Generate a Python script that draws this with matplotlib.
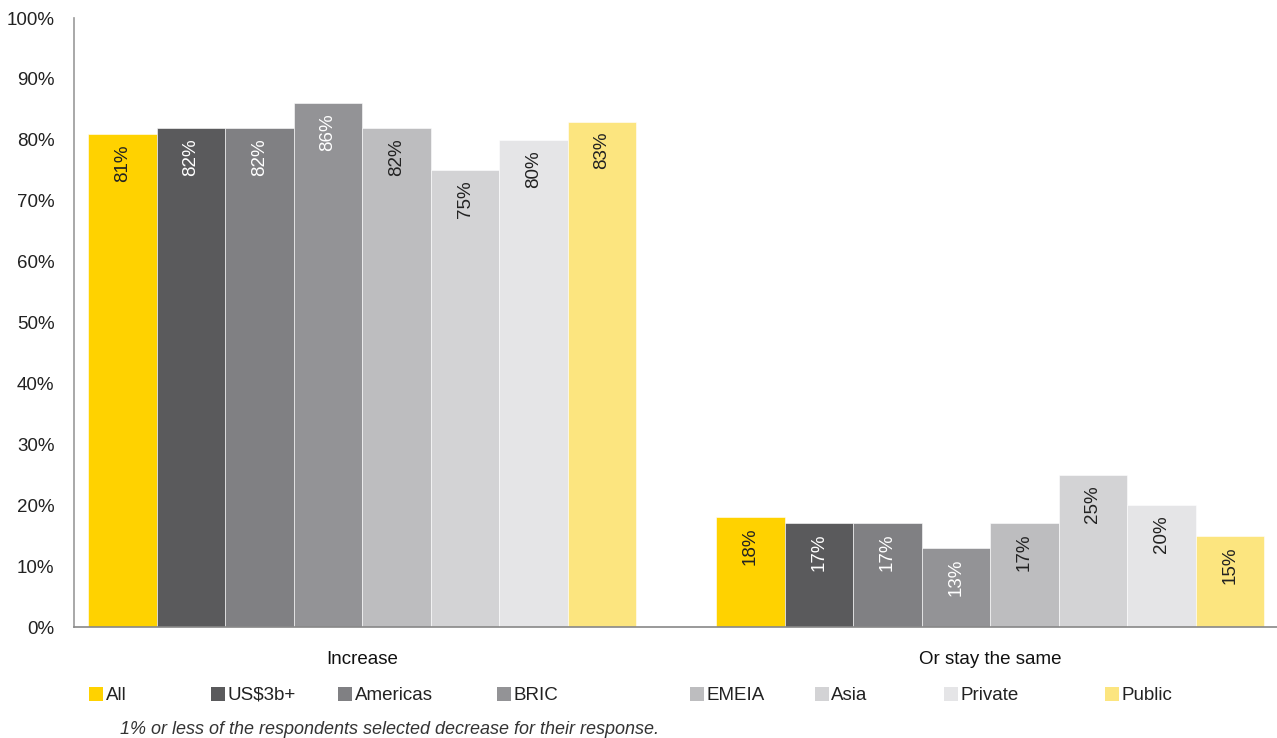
import numpy as np
import matplotlib
matplotlib.use('Agg')
import matplotlib.pyplot as plt
from matplotlib.patches import Rectangle

plt.rcParams['font.family'] = ['Liberation Sans', 'DejaVu Sans']

categories = ['Increase', 'Or stay the same']
series = ['All', 'US$3b+', 'Americas', 'BRIC', 'EMEIA', 'Asia', 'Private', 'Public']
values = [
    [81, 82, 82, 86, 82, 75, 80, 83],
    [18, 17, 17, 13, 17, 25, 20, 15],
]
colors = ['#FFD200', '#5A5A5C', '#808083', '#939396', '#BDBDBF', '#D3D3D5', '#E5E5E7', '#FCE57F']
label_colors = ['#222222', 'white', 'white', 'white', '#222222', '#222222', '#222222', '#222222']
legend_x = [0.070, 0.165, 0.265, 0.389, 0.540, 0.638, 0.739, 0.865]

FS = 13.5

fig = plt.figure(figsize=(12.77, 7.38), dpi=100)
ax = fig.add_axes([0.058, 0.1504, 0.942, 0.8252])

n = len(series)
group_w = 0.873
bw = group_w / n
x = np.arange(len(categories))

for i, name in enumerate(series):
    pos = x - group_w / 2 + bw * (i + 0.5)
    vals = [values[c][i] for c in range(len(categories))]
    ax.bar(pos, vals, width=bw, color=colors[i], edgecolor='white', linewidth=0.4, zorder=2)
    for p, v in zip(pos, vals):
        ax.text(p, v - 1.7, f'{v}%', rotation=90, ha='center', va='top',
                fontsize=FS, color=label_colors[i], zorder=3)

ax.set_xlim(-0.459, 1.457)
ax.set_ylim(0, 100)
ax.set_yticks(np.arange(0, 101, 10))
ax.set_yticklabels([f'{t}%' for t in range(0, 101, 10)], fontsize=FS, color='#222222')
ax.set_xticks(x)
ax.set_xticklabels(categories, fontsize=FS, color='#111111')
ax.tick_params(axis='y', length=0, pad=14)
ax.tick_params(axis='x', length=0, pad=17)

for side in ['top', 'right']:
    ax.spines[side].set_visible(False)
ax.spines['left'].set_color('#999999')
ax.spines['bottom'].set_color('#888888')
ax.spines['left'].set_linewidth(1.2)
ax.spines['bottom'].set_linewidth(1.2)

# legend row drawn by hand to keep the uneven spacing
ly = 1 - 695 / 738
sq_w = 14 / 1277
sq_h = 14 / 738
for lx, name, c in zip(legend_x, series, colors):
    fig.patches.append(Rectangle((lx, ly - sq_h / 2 + 0.002), sq_w, sq_h,
                                 transform=fig.transFigure, facecolor=c,
                                 edgecolor='none'))
    fig.text(lx + sq_w + 0.002, ly, name, fontsize=FS, va='center',
             ha='left', color='#222222')

fig.text(120 / 1277, 1 - 730 / 738,
         '1% or less of the respondents selected decrease for their response.',
         fontsize=13, style='italic', color='#333333', va='center', ha='left')

fig.savefig('out.png', dpi=100, facecolor='white')
